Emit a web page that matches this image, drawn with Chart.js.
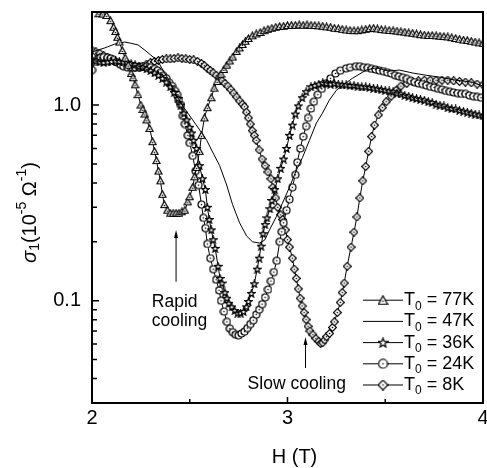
<!DOCTYPE html>
<html>
<head>
    <title>sigma1 vs H</title>
    <script src="https://cdn.jsdelivr.net/npm/chart.js@4"></script>
    <style>
        html, body { margin: 0; padding: 0; background: #fff; }
        #wrap { width: 487px; height: 468px; }
    </style>
</head>
<body>
<div id="wrap"><canvas id="chart" width="487" height="468"></canvas></div>
<script>
    // H (T) and sigma1 (1e-5 1/Ohm)
    const h77 = [2.035, 2.055, 2.075, 2.095, 2.11, 2.12, 2.13, 2.14, 2.155, 2.17, 2.185, 2.2, 2.21, 2.22, 2.235, 2.25, 2.26, 2.27, 2.28, 2.295,
        2.31, 2.32, 2.33, 2.34, 2.35, 2.36, 2.37, 2.385, 2.4, 2.415, 2.43, 2.445, 2.46, 2.475, 2.49, 2.5, 2.515, 2.525, 2.535, 2.55,
        2.56, 2.575, 2.59, 2.61, 2.625, 2.64, 2.66, 2.675, 2.69, 2.705, 2.72, 2.74, 2.755, 2.77, 2.785, 2.8, 2.82, 2.84, 2.86, 2.88,
        2.9, 2.92, 2.94, 2.96, 2.98, 3.0, 3.02, 3.04, 3.06, 3.08, 3.1, 3.12, 3.14, 3.16, 3.18, 3.2, 3.22, 3.24, 3.26, 3.28,
        3.3, 3.32, 3.34, 3.36, 3.38, 3.4, 3.42, 3.44, 3.46, 3.48, 3.5, 3.52, 3.54, 3.56, 3.58, 3.6, 3.62, 3.64, 3.66, 3.68,
        3.7, 3.72, 3.74, 3.76, 3.78, 3.8, 3.82, 3.84, 3.86, 3.88, 3.9, 3.92, 3.94, 3.96, 3.98, 4.0];
    const s77 = [2.93, 2.92, 2.87, 2.7, 2.5, 2.38, 2.22, 2.1, 1.9, 1.74, 1.6, 1.45, 1.38, 1.27, 1.13, 1.0, 0.95, 0.9, 0.84, 0.76,
        0.65, 0.58, 0.52, 0.46, 0.41, 0.35, 0.31, 0.29, 0.28, 0.28, 0.28, 0.28, 0.285, 0.29, 0.32, 0.34, 0.38, 0.43, 0.48, 0.58,
        0.7, 0.86, 0.97, 1.09, 1.22, 1.32, 1.44, 1.52, 1.6, 1.68, 1.76, 1.88, 1.96, 2.04, 2.12, 2.19, 2.26, 2.31, 2.35, 2.4,
        2.44, 2.47, 2.5, 2.52, 2.53, 2.55, 2.56, 2.56, 2.57, 2.56, 2.57, 2.56, 2.55, 2.54, 2.53, 2.51, 2.5, 2.47, 2.46, 2.44,
        2.42, 2.41, 2.4, 2.4, 2.42, 2.44, 2.46, 2.47, 2.45, 2.43, 2.42, 2.41, 2.4, 2.39, 2.37, 2.36, 2.34, 2.33, 2.31, 2.29,
        2.28, 2.27, 2.27, 2.26, 2.25, 2.24, 2.23, 2.21, 2.19, 2.17, 2.15, 2.14, 2.12, 2.1, 2.08, 2.07];

    const h47 = [2.0, 2.066, 2.117, 2.168, 2.199, 2.235, 2.27, 2.301, 2.337, 2.362, 2.388, 2.413, 2.439, 2.464, 2.49, 2.515, 2.551, 2.587,
        2.617, 2.653, 2.689, 2.719, 2.755, 2.791, 2.821, 2.857, 2.883, 2.908, 2.944, 2.974, 3.01, 3.046, 3.077, 3.112, 3.148,
        3.179, 3.214, 3.25, 3.291, 3.332, 3.403, 3.454, 3.52, 3.571, 3.638, 3.709, 3.776, 3.862, 3.944, 4.0];
    const s47 = [1.87, 1.96, 2.05, 2.1, 2.07, 2.03, 1.91, 1.8, 1.68, 1.51, 1.37, 1.22, 1.09, 0.99, 0.91, 0.84, 0.745, 0.66,
        0.575, 0.49, 0.39, 0.31, 0.25, 0.214, 0.2, 0.197, 0.204, 0.23, 0.27, 0.315, 0.38, 0.466, 0.54, 0.66, 0.81,
        0.91, 1.06, 1.19, 1.28, 1.37, 1.51, 1.55, 1.49, 1.51, 1.46, 1.42, 1.39, 1.34, 1.31, 1.25];

    const h36 = [2.0, 2.02, 2.04, 2.06, 2.08, 2.1, 2.12, 2.14, 2.16, 2.18, 2.2, 2.22, 2.24, 2.26, 2.28, 2.3, 2.32, 2.34, 2.36, 2.38,
        2.4, 2.42, 2.44, 2.455, 2.47, 2.485, 2.5, 2.51, 2.52, 2.535, 2.55, 2.565, 2.58, 2.59, 2.6, 2.61, 2.62, 2.63, 2.645, 2.655,
        2.665, 2.68, 2.69, 2.7, 2.715, 2.73, 2.745, 2.76, 2.775, 2.79, 2.8, 2.815, 2.83, 2.845, 2.855, 2.865, 2.875, 2.885, 2.895, 2.91,
        2.92, 2.935, 2.95, 2.965, 2.98, 2.995, 3.01, 3.025, 3.04, 3.055, 3.075, 3.095, 3.12, 3.14, 3.16, 3.18, 3.2, 3.22, 3.24, 3.26,
        3.28, 3.3, 3.32, 3.34, 3.36, 3.38, 3.4, 3.42, 3.44, 3.46, 3.48, 3.5, 3.52, 3.54, 3.56, 3.58, 3.6, 3.62, 3.64, 3.66,
        3.68, 3.7, 3.72, 3.74, 3.76, 3.78, 3.8, 3.82, 3.84, 3.86, 3.88, 3.9, 3.92, 3.94, 3.96, 3.98, 4.0];
    const s36 = [1.7, 1.68, 1.66, 1.65, 1.66, 1.67, 1.68, 1.67, 1.66, 1.65, 1.63, 1.61, 1.58, 1.56, 1.53, 1.5, 1.46, 1.42, 1.37, 1.31,
        1.24, 1.16, 1.08, 1.0, 0.91, 0.84, 0.77, 0.72, 0.66, 0.6, 0.49, 0.42, 0.37, 0.3, 0.26, 0.23, 0.205, 0.185, 0.15, 0.13,
        0.123, 0.11, 0.103, 0.097, 0.093, 0.089, 0.0865, 0.0865, 0.088, 0.093, 0.099, 0.109, 0.122, 0.145, 0.165, 0.19, 0.22, 0.245, 0.265, 0.295,
        0.325, 0.37, 0.42, 0.475, 0.53, 0.6, 0.7, 0.79, 0.9, 0.99, 1.09, 1.17, 1.24, 1.26, 1.28, 1.3, 1.29, 1.28, 1.29, 1.28,
        1.27, 1.27, 1.26, 1.26, 1.25, 1.24, 1.24, 1.23, 1.22, 1.21, 1.2, 1.19, 1.18, 1.17, 1.15, 1.14, 1.12, 1.11, 1.09, 1.08,
        1.07, 1.06, 1.04, 1.03, 1.01, 1.0, 0.99, 0.97, 0.96, 0.955, 0.94, 0.93, 0.92, 0.91, 0.9, 0.89, 0.88];

    const h24 = [2.0, 2.015, 2.03, 2.045, 2.06, 2.08, 2.095, 2.11, 2.13, 2.145, 2.16, 2.18, 2.2, 2.22, 2.24, 2.26, 2.28, 2.3, 2.32, 2.335,
        2.35, 2.365, 2.38, 2.395, 2.41, 2.425, 2.435, 2.445, 2.455, 2.465, 2.475, 2.49, 2.5, 2.515, 2.53, 2.545, 2.56, 2.57, 2.58, 2.59,
        2.605, 2.62, 2.635, 2.65, 2.66, 2.675, 2.69, 2.705, 2.72, 2.735, 2.75, 2.765, 2.78, 2.795, 2.81, 2.825, 2.84, 2.855, 2.87, 2.885,
        2.9, 2.915, 2.93, 2.945, 2.96, 2.97, 2.98, 2.995, 3.01, 3.025, 3.04, 3.05, 3.065, 3.08, 3.095, 3.105, 3.12, 3.135, 3.155, 3.175,
        3.195, 3.22, 3.245, 3.27, 3.3, 3.32, 3.35, 3.37, 3.39, 3.41, 3.43, 3.45, 3.47, 3.49, 3.51, 3.53, 3.55, 3.57, 3.59, 3.61,
        3.63, 3.65, 3.67, 3.69, 3.71, 3.73, 3.75, 3.77, 3.79, 3.81, 3.83, 3.85, 3.87, 3.89, 3.91, 3.93, 3.95, 3.97, 3.99];
    const s24 = [1.51, 1.66, 1.72, 1.75, 1.76, 1.75, 1.73, 1.7, 1.65, 1.61, 1.58, 1.56, 1.55, 1.56, 1.57, 1.58, 1.57, 1.56, 1.53, 1.5,
        1.46, 1.41, 1.37, 1.3, 1.25, 1.18, 1.13, 1.06, 1.0, 0.88, 0.8, 0.7, 0.64, 0.55, 0.46, 0.39, 0.31, 0.265, 0.235, 0.195,
        0.165, 0.145, 0.128, 0.113, 0.1, 0.088, 0.078, 0.072, 0.069, 0.067, 0.0665, 0.068, 0.0695, 0.0725, 0.076, 0.0795, 0.085, 0.09, 0.096, 0.104,
        0.114, 0.126, 0.14, 0.16, 0.2, 0.225, 0.25, 0.29, 0.33, 0.38, 0.44, 0.51, 0.6, 0.69, 0.78, 0.86, 0.96, 1.04, 1.13, 1.21,
        1.29, 1.37, 1.45, 1.5, 1.54, 1.56, 1.58, 1.58, 1.56, 1.55, 1.53, 1.52, 1.5, 1.49, 1.47, 1.45, 1.42, 1.4, 1.38, 1.36,
        1.33, 1.31, 1.29, 1.28, 1.26, 1.24, 1.23, 1.21, 1.2, 1.18, 1.17, 1.16, 1.15, 1.14, 1.14, 1.12, 1.11, 1.1, 1.09];

    const h8 = [2.0, 2.02, 2.04, 2.06, 2.08, 2.1, 2.12, 2.14, 2.16, 2.18, 2.2, 2.22, 2.24, 2.26, 2.28, 2.3, 2.32, 2.34, 2.36, 2.38,
        2.4, 2.42, 2.44, 2.46, 2.48, 2.5, 2.52, 2.54, 2.56, 2.575, 2.59, 2.605, 2.62, 2.635, 2.65, 2.665, 2.68, 2.695, 2.71, 2.725,
        2.74, 2.755, 2.77, 2.78, 2.79, 2.8, 2.81, 2.82, 2.83, 2.84, 2.855, 2.87, 2.885, 2.9, 2.915, 2.925, 2.94, 2.95, 2.965, 2.975,
        2.99, 3.0, 3.01, 3.025, 3.035, 3.045, 3.055, 3.065, 3.075, 3.085, 3.095, 3.105, 3.115, 3.13, 3.145, 3.16, 3.17, 3.18, 3.19, 3.2,
        3.215, 3.23, 3.24, 3.255, 3.27, 3.28, 3.29, 3.305, 3.325, 3.34, 3.355, 3.37, 3.385, 3.4, 3.415, 3.43, 3.445, 3.465, 3.485, 3.505,
        3.53, 3.555, 3.58, 3.61, 3.64, 3.67, 3.7, 3.73, 3.76, 3.79, 3.82, 3.85, 3.88, 3.91, 3.94, 3.97, 4.0];
    const s8 = [1.91, 1.87, 1.84, 1.79, 1.75, 1.71, 1.67, 1.64, 1.6, 1.58, 1.56, 1.55, 1.55, 1.58, 1.62, 1.65, 1.67, 1.69, 1.71, 1.72,
        1.72, 1.73, 1.74, 1.73, 1.72, 1.71, 1.7, 1.67, 1.63, 1.59, 1.54, 1.5, 1.46, 1.42, 1.38, 1.33, 1.29, 1.25, 1.2, 1.15,
        1.1, 1.05, 1.01, 0.98, 0.92, 0.86, 0.8, 0.74, 0.7, 0.66, 0.59, 0.53, 0.49, 0.455, 0.42, 0.38, 0.335, 0.3, 0.275, 0.26,
        0.23, 0.205, 0.188, 0.165, 0.145, 0.13, 0.115, 0.103, 0.094, 0.087, 0.08, 0.074, 0.07, 0.067, 0.064, 0.062, 0.0605, 0.061, 0.063, 0.0655,
        0.068, 0.073, 0.078, 0.087, 0.098, 0.11, 0.123, 0.15, 0.188, 0.224, 0.268, 0.335, 0.41, 0.485, 0.58, 0.69, 0.79, 0.89, 0.97, 1.04,
        1.11, 1.19, 1.25, 1.29, 1.32, 1.33, 1.34, 1.34, 1.34, 1.34, 1.34, 1.33, 1.32, 1.31, 1.3, 1.28, 1.27];

    const legendTemps = ['77K', '47K', '36K', '24K', '8K'];
    const xMajor = [2, 3, 4];
    const xMinor = [2.5, 3.5];
    const yMajor = [0.1, 1];
    const yMinor = [0.03, 0.04, 0.05, 0.06, 0.07, 0.08, 0.09, 0.2, 0.3, 0.4, 0.5, 0.6, 0.7, 0.8, 0.9];

    // notes, in data units (H, sigma)
    const arrows = [[2.43, 0.125, 0.23], [3.092, 0.0453, 0.0653]];
    const notes = [['Rapid', 2.306, 0.0929], ['cooling', 2.306, 0.0742], ['Slow cooling', 2.796, 0.0354]];

    const FONT = "'Liberation Sans', Arial, sans-serif";

    function makeMarker(kind, size) {
        const c = document.createElement('canvas');
        c.width = size;
        c.height = size;
        const g = c.getContext('2d');
        const m = size / 2, r = size / 2 - 1;
        g.lineWidth = 1.2;
        g.strokeStyle = '#000';
        g.fillStyle = '#fff';
        g.beginPath();
        if (kind === 'circle') {
            g.arc(m, m, r, 0, Math.PI * 2);
        } else if (kind === 'triangle') {
            g.moveTo(m, 1);
            g.lineTo(size - 1, size - 1.5);
            g.lineTo(1, size - 1.5);
            g.closePath();
        } else if (kind === 'diamond') {
            g.moveTo(m, 0.6);
            g.lineTo(size - 0.6, m);
            g.lineTo(m, size - 0.6);
            g.lineTo(0.6, m);
            g.closePath();
        } else if (kind === 'star') {
            for (let i = 0; i < 10; i++) {
                const rr = i % 2 ? r * 0.45 : r + 0.4;
                const a = -Math.PI / 2 + i * Math.PI / 5;
                const px = m + rr * Math.cos(a), py = m + 0.4 + rr * Math.sin(a);
                if (i === 0) g.moveTo(px, py); else g.lineTo(px, py);
            }
            g.closePath();
        }
        g.fill();
        g.stroke();
        if (kind !== 'star') {
            g.fillStyle = '#000';
            g.beginPath();
            g.arc(m, kind === 'triangle' ? m + 1 : m, 0.8, 0, Math.PI * 2);
            g.fill();
        }
        return c;
    }

    const kinds = ['triangle', null, 'star', 'circle', 'diamond'];
    const plotMarks = kinds.map(k => k ? makeMarker(k, 9) : null);
    const legendMarks = kinds.map(k => k ? makeMarker(k, 11) : null);

    function pts(hs, ss) {
        return hs.map((h, i) => ({x: h, y: ss[i]}));
    }

    function series(label, hs, ss, idx) {
        return {
            label: label,
            data: pts(hs, ss),
            borderColor: '#000',
            borderWidth: 1,
            tension: 0,
            fill: false,
            pointStyle: plotMarks[idx] || 'circle',
            pointRadius: plotMarks[idx] ? 3.5 : 0
        };
    }

    // draw a run of text pieces with sub/superscripts, starting at x
    function drawPieces(ctx, pieces, x, y) {
        pieces.forEach(p => {
            ctx.font = p[1];
            ctx.fillText(p[0], x, y + (p[2] || 0));
            x += ctx.measureText(p[0]).width;
        });
        return x;
    }

    function piecesWidth(ctx, pieces) {
        let w = 0;
        pieces.forEach(p => { ctx.font = p[1]; w += ctx.measureText(p[0]).width; });
        return w;
    }

    const decor = {
        id: 'decor',
        afterDraw(chart) {
            const ctx = chart.ctx, a = chart.chartArea, xs = chart.scales.x, ys = chart.scales.y;
            ctx.save();
            ctx.strokeStyle = '#000';
            ctx.fillStyle = '#000';

            // frame
            ctx.lineWidth = 2;
            ctx.strokeRect(a.left, a.top, a.right - a.left, a.bottom - a.top);

            // inward ticks
            ctx.lineWidth = 1.5;
            ctx.beginPath();
            xMajor.forEach(v => { const p = xs.getPixelForValue(v); ctx.moveTo(p, a.bottom); ctx.lineTo(p, a.bottom - 6); });
            xMinor.forEach(v => { const p = xs.getPixelForValue(v); ctx.moveTo(p, a.bottom); ctx.lineTo(p, a.bottom - 4); });
            yMajor.forEach(v => { const p = ys.getPixelForValue(v); ctx.moveTo(a.left, p); ctx.lineTo(a.left + 7, p); });
            yMinor.forEach(v => { const p = ys.getPixelForValue(v); ctx.moveTo(a.left, p); ctx.lineTo(a.left + 5, p); });
            ctx.stroke();

            // arrows
            ctx.lineWidth = 1;
            arrows.forEach(ar => {
                const x = xs.getPixelForValue(ar[0]);
                const y0 = ys.getPixelForValue(ar[1]), y1 = ys.getPixelForValue(ar[2]);
                ctx.beginPath();
                ctx.moveTo(x, y0);
                ctx.lineTo(x, y1 + 6);
                ctx.stroke();
                ctx.beginPath();
                ctx.moveTo(x, y1);
                ctx.lineTo(x - 2, y1 + 8);
                ctx.lineTo(x + 2, y1 + 8);
                ctx.closePath();
                ctx.fill();
            });

            // notes
            ctx.font = '17.5px ' + FONT;
            ctx.textAlign = 'left';
            ctx.textBaseline = 'alphabetic';
            notes.forEach(n => ctx.fillText(n[0], xs.getPixelForValue(n[1]), ys.getPixelForValue(n[2])));

            // legend
            const big = '18px ' + FONT, small = '12px ' + FONT;
            ctx.textBaseline = 'middle';
            legendTemps.forEach((t, i) => {
                const y = a.bottom - 18 - (legendTemps.length - 1 - i) * 21.2;
                const x0 = a.right - 120, x1 = a.right - 80;
                ctx.lineWidth = 1;
                ctx.beginPath();
                ctx.moveTo(x0, y);
                ctx.lineTo(x1, y);
                ctx.stroke();
                if (legendMarks[i]) {
                    const m = legendMarks[i];
                    ctx.drawImage(m, (x0 + x1) / 2 - m.width / 2, y - m.height / 2);
                }
                drawPieces(ctx, [['T', big], ['0', small, 6], [' = ' + t, big]], x1 + 1, y);
            });

            // y title
            const yt = [['σ', 'italic 20px ' + FONT], ['1', '14px ' + FONT, 5], ['(10', '20px ' + FONT],
                ['-5', '14px ' + FONT, -8], [' Ω', '20px ' + FONT], ['-1', '14px ' + FONT, -8], [')', '20px ' + FONT]];
            ctx.save();
            ctx.translate(30, (a.top + a.bottom) / 2 + 5);
            ctx.rotate(-Math.PI / 2);
            drawPieces(ctx, yt, -piecesWidth(ctx, yt) / 2, 0);
            ctx.restore();

            // x title
            ctx.font = '20px ' + FONT;
            ctx.textAlign = 'center';
            ctx.fillText('H (T)', (a.left + a.right) / 2 + 7, 457);

            ctx.restore();
        }
    };

    const ctx = document.getElementById('chart').getContext('2d');
    const chart = new Chart(ctx, {
        type: 'line',
        data: {
            datasets: [
                series('T0 = 77K', h77, s77, 0),
                series('T0 = 47K', h47, s47, 1),
                series('T0 = 36K', h36, s36, 2),
                series('T0 = 24K', h24, s24, 3),
                series('T0 = 8K', h8, s8, 4)
            ]
        },
        options: {
            responsive: false,
            animation: false,
            events: [],
            layout: {
                autoPadding: false,
                padding: {top: 12, right: 4, left: 0, bottom: 0}
            },
            plugins: {
                legend: {display: false},
                tooltip: {enabled: false}
            },
            scales: {
                x: {
                    type: 'linear',
                    min: 2,
                    max: 4,
                    grid: {display: false, drawTicks: false},
                    border: {display: false},
                    ticks: {
                        stepSize: 1,
                        maxRotation: 0,
                        autoSkip: false,
                        color: '#000',
                        padding: 5,
                        font: {family: FONT, size: 20, lineHeight: 1}
                    },
                    afterFit: s => {
                        s.height = 65;
                        s.paddingLeft = 0;
                        s.paddingRight = 0;
                    }
                },
                y: {
                    type: 'logarithmic',
                    min: 0.03,
                    max: 2.99,
                    grid: {display: false, drawTicks: false},
                    border: {display: false},
                    afterBuildTicks: s => { s.ticks = yMajor.map(v => ({value: v})); },
                    ticks: {
                        color: '#000',
                        padding: 11,
                        font: {family: FONT, size: 20},
                        callback: v => v === 1 ? '1.0' : String(v)
                    },
                    afterFit: s => {
                        s.width = 92;
                        s.paddingTop = 0;
                        s.paddingBottom = 0;
                    }
                }
            }
        },
        plugins: [decor]
    });
</script>
</body>
</html>
